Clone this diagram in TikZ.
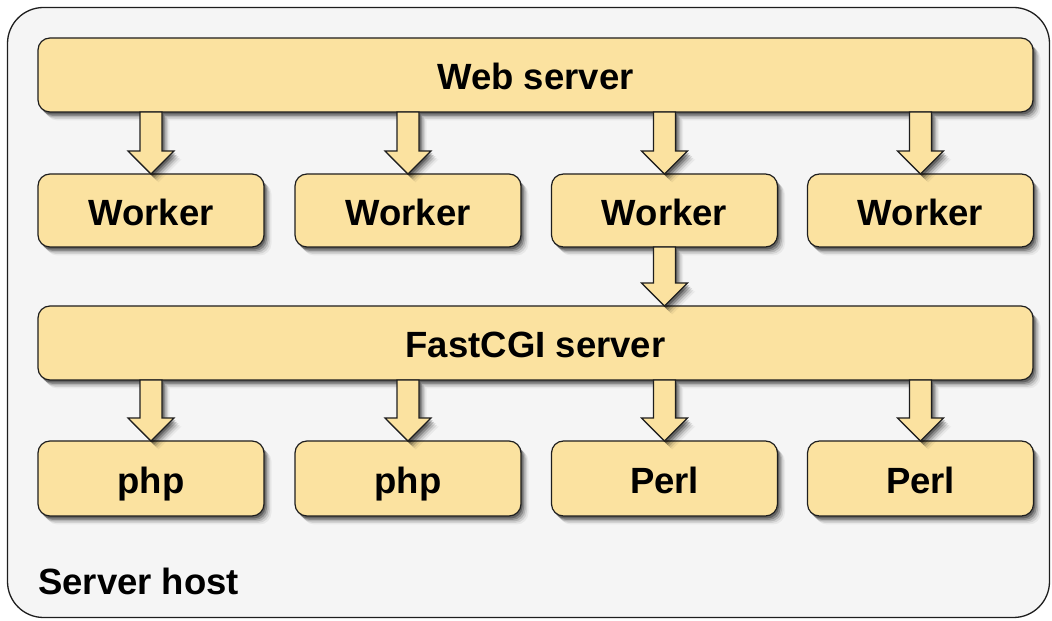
\documentclass[tikz,border=0pt]{standalone}
\usepackage{fontspec}
\setmainfont{Liberation Sans}
\usetikzlibrary{calc,shadows}
\definecolor{boxfill}{RGB}{251,226,160}
\definecolor{hostfill}{RGB}{245,245,245}
\definecolor{edge}{RGB}{30,30,30}
\tikzset{
  softshadow/.style={
    general shadow={shadow xshift=1.5pt,shadow yshift=-2.5pt,fill=black,opacity=.28},
    general shadow={shadow xshift=3pt,shadow yshift=-4pt,fill=black,opacity=.22},
    general shadow={shadow xshift=4.5pt,shadow yshift=-5.5pt,fill=black,opacity=.15},
    general shadow={shadow xshift=6pt,shadow yshift=-7pt,fill=black,opacity=.09},
    general shadow={shadow xshift=7.5pt,shadow yshift=-8.5pt,fill=black,opacity=.05}},
  box/.style={draw=edge,line width=1.2pt,fill=boxfill,rounded corners=12pt,
    inner sep=0pt,outer sep=0pt,text height=30pt,text depth=0pt,
    font=\fontsize{36.5}{44}\selectfont\bfseries,softshadow},
  widebox/.style={box,minimum width=995pt,minimum height=74pt},
  smallbox/.style={box,minimum width=226pt,minimum height=74pt},
  fatarrowstyle/.style={draw=edge,line width=1.2pt,fill=boxfill,line join=miter,softshadow},
}
\newcommand\myfatarrow[2]{%
  \path[fatarrowstyle] let \p1=(#2.north), \p2=(#1.south) in
    (\x1-11pt,\y2) -- (\x1+11pt,\y2) -- (\x1+11pt,\y1+23pt) -- (\x1+23pt,\y1+23pt)
    -- (\x1,\y1) -- (\x1-23pt,\y1+23pt) -- (\x1-11pt,\y1+23pt) -- cycle;}
\begin{document}
\begin{tikzpicture}[x=1pt,y=1pt]
\useasboundingbox (0,0) rectangle (1052,621);
\draw[draw=edge,line width=1.3pt,fill=hostfill,rounded corners=36pt] (7.5,3.5) rectangle (1049.5,613.5);
\node[anchor=base west,inner sep=0pt,font=\fontsize{36.5}{44}\selectfont\bfseries] (host) at (38,27) {Server host};

\node[widebox] (web) at (535.5,546) {Web server};
\node[smallbox,minimum height=73pt] (w1) at (151,410.5) {Worker};
\node[smallbox,minimum height=73pt] (w2) at (408,410.5) {Worker};
\node[smallbox,minimum height=73pt] (w3) at (664.5,410.5) {Worker};
\node[smallbox,minimum height=73pt] (w4) at (920.5,410.5) {Worker};
\node[widebox] (fcgi) at (535.5,278) {FastCGI server};
\node[smallbox,minimum height=75pt] (p1) at (151,142.5) {php};
\node[smallbox,minimum height=75pt] (p2) at (408,142.5) {php};
\node[smallbox,minimum height=75pt] (p3) at (664.5,142.5) {Perl};
\node[smallbox,minimum height=75pt] (p4) at (920.5,142.5) {Perl};

\myfatarrow{web}{w1}
\myfatarrow{web}{w2}
\myfatarrow{web}{w3}
\myfatarrow{web}{w4}
\myfatarrow{w3}{fcgi.north -| w3}
\myfatarrow{fcgi}{p1}
\myfatarrow{fcgi}{p2}
\myfatarrow{fcgi}{p3}
\myfatarrow{fcgi}{p4}
\end{tikzpicture}
\end{document}
